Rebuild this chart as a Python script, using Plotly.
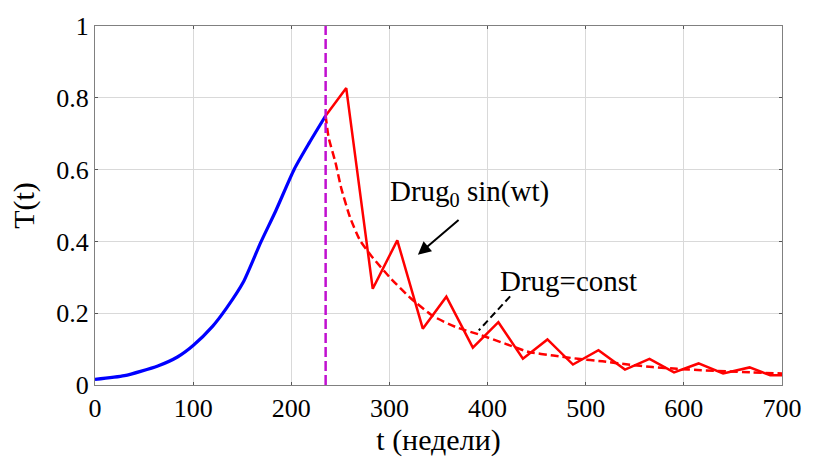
import plotly.graph_objects as go

# Growth phase (no drug)
t_growth = [0, 30, 64, 84, 100, 120, 134, 151, 169, 184, 203, 218, 235]
T_growth = [0.0155, 0.026, 0.053, 0.078, 0.110, 0.164, 0.214, 0.286, 0.398, 0.484, 0.601, 0.673, 0.75]

# Drug = Drug0 sin(wt)
t_sin = [235, 256, 283, 308, 334, 358, 385, 411, 436, 461, 487, 513, 540, 565, 590, 615, 640, 667, 688, 700]
T_sin = [0.75, 0.827, 0.268, 0.403, 0.157, 0.246, 0.104, 0.175, 0.073, 0.127, 0.057, 0.097,
         0.043, 0.073, 0.035, 0.060, 0.032, 0.049, 0.027, 0.027]

# Drug = const
t_const = [235, 238, 245, 251, 260, 270, 282, 302, 322, 345, 369, 392, 419, 442, 467, 492, 517, 543, 568, 593, 618, 643, 670, 700]
T_const = [0.75, 0.69, 0.62, 0.547, 0.466, 0.403, 0.358, 0.295, 0.241, 0.191, 0.16, 0.14, 0.114, 0.092, 0.082,
           0.073, 0.066, 0.057, 0.050, 0.045, 0.041, 0.038, 0.035, 0.032]

t_switch = 235
x_ticks = [0, 100, 200, 300, 400, 500, 600, 700]
y_ticks = [0, 0.2, 0.4, 0.6, 0.8, 1]
y_ticktext = ["0", "0.2", "0.4", "0.6", "0.8", "1"]

FONT = "Liberation Serif"

fig = go.Figure()
fig.add_trace(go.Scatter(x=t_growth, y=T_growth, mode="lines", line_shape="spline",
                         line=dict(color="#0000FF", width=3.2, smoothing=0.6), showlegend=False))
fig.add_trace(go.Scatter(x=t_const, y=T_const, mode="lines", line_shape="spline",
                         line=dict(color="#FF0000", width=2.5, dash="8px,4px", smoothing=0.5), showlegend=False))
fig.add_trace(go.Scatter(x=t_sin, y=T_sin, mode="lines",
                         line=dict(color="#FF0000", width=2.5), showlegend=False))

fig.add_shape(type="line", x0=t_switch, x1=t_switch, y0=0, y1=1, xref="x", yref="y",
              line=dict(color="#C010D0", width=2.5, dash="10px,4px"))

# Dashed pointer for Drug=const
fig.add_shape(type="line", x0=423, y0=0.247, x1=391, y1=0.152, xref="x", yref="y",
              line=dict(color="black", width=2, dash="7px,4px"))

# Arrow for Drug0 sin(wt)
fig.add_annotation(x=329, y=0.363, ax=372, ay=0.463, xref="x", yref="y", axref="x", ayref="y",
                   text="", showarrow=True, arrowhead=2, arrowsize=1.3, arrowwidth=2, arrowcolor="black")

fig.add_annotation(x=382, y=0.534, xref="x", yref="y", text="Drug<sub>0</sub> sin(wt)",
                   showarrow=False, font=dict(family=FONT, size=29, color="black"))
fig.add_annotation(x=482, y=0.29, xref="x", yref="y", text="Drug=const",
                   showarrow=False, font=dict(family=FONT, size=29, color="black"))

common = dict(showline=True, linecolor="#808080", linewidth=1, mirror="ticks",
              ticks="inside", ticklen=3, tickcolor="#555555",
              showgrid=True, gridcolor="#D9D9D9", gridwidth=1, zeroline=False,
              tickfont=dict(family=FONT, size=26, color="black"))

fig.update_layout(
    width=814, height=462, margin=dict(l=95, r=25, t=20, b=73),
    plot_bgcolor="white", paper_bgcolor="white", showlegend=False,
    font=dict(family=FONT, size=26, color="black"),
    xaxis=dict(range=[0, 700], tickvals=x_ticks, ticktext=[str(v) for v in x_ticks],
               title=dict(text="t (недели)", font=dict(family=FONT, size=30, color="black"), standoff=6),
               **common),
    yaxis=dict(range=[0, 1], tickvals=y_ticks, ticktext=y_ticktext,
               title=dict(text="T(t)", font=dict(family=FONT, size=30, color="black"), standoff=12),
               **common),
)

fig.write_html("out.html")
